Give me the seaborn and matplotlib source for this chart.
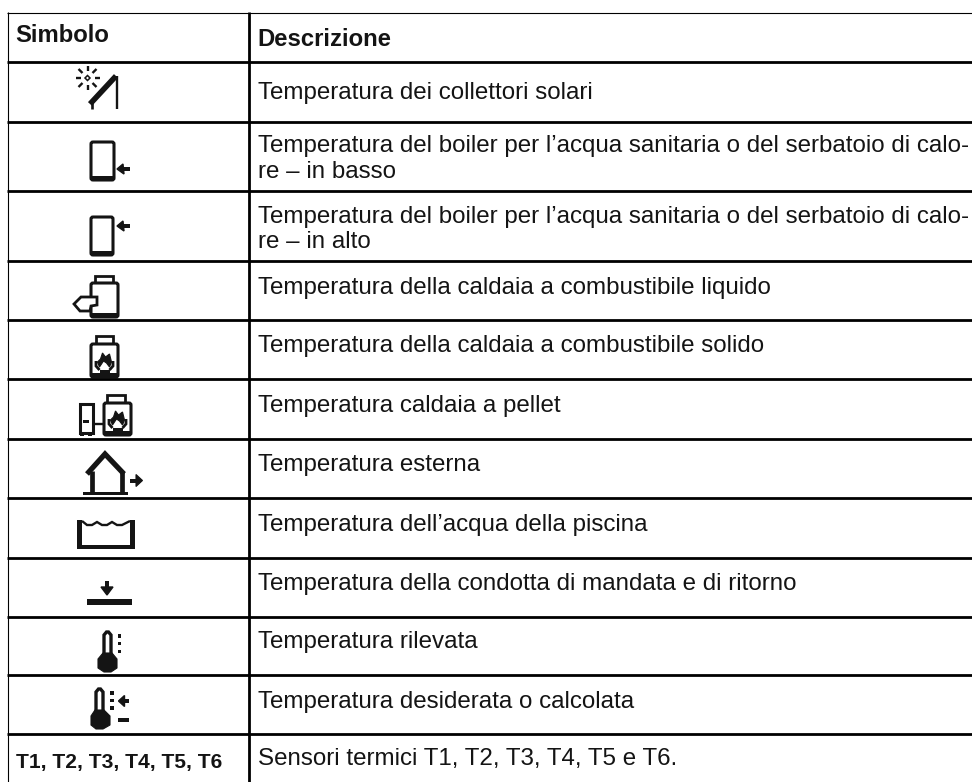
import matplotlib
matplotlib.use("Agg")
import matplotlib.pyplot as plt
from matplotlib.patches import Polygon, Rectangle, FancyBboxPatch
import seaborn as sns

# Table contents
headers = ["Simbolo", "Descrizione"]
description_lines = [
    ["Temperatura dei collettori solari"],
    ["Temperatura del boiler per l’acqua sanitaria o del serbatoio di calo-", "re – in basso"],
    ["Temperatura del boiler per l’acqua sanitaria o del serbatoio di calo-", "re – in alto"],
    ["Temperatura della caldaia a combustibile liquido"],
    ["Temperatura della caldaia a combustibile solido"],
    ["Temperatura caldaia a pellet"],
    ["Temperatura esterna"],
    ["Temperatura dell’acqua della piscina"],
    ["Temperatura della condotta di mandata e di ritorno"],
    ["Temperatura rilevata"],
    ["Temperatura desiderata o calcolata"],
    ["Sensori termici T1, T2, T3, T4, T5 e T6."],
]
sensor_label = "T1, T2, T3, T4, T5, T6"

# Row rules and text baselines, in image pixels
row_rules = [61.5, 121.5, 190.5, 260.5, 319.5, 379, 438.5, 498, 557.5, 616.5, 674.5, 733.5]
row_baselines = [[99.5], [152, 178], [223, 248.5], [294], [352], [412], [471], [531], [590], [648], [708], [765.5]]

sns.set_theme(style="white")
plt.rcParams["font.family"] = ["Liberation Sans", "DejaVu Sans"]

fig = plt.figure(figsize=(9.72, 7.82), dpi=100)
ax = fig.add_axes([0, 0, 1, 1])
ax.set_xlim(0, 972)
ax.set_ylim(782, 0)
ax.axis("off")
INK = "#141414"


def fill(x0, y0, x1, y1):
    ax.add_patch(Rectangle((x0, y0), x1 - x0, y1 - y0, fc=INK, ec="none"))


def poly(points, filled=True, lw=2.0):
    ax.add_patch(Polygon(points, closed=True, fc=INK if filled else "white", ec=INK, lw=lw, joinstyle="miter"))


def line(points, lw=1.5):
    xs, ys = zip(*points)
    ax.plot(xs, ys, color=INK, lw=lw, solid_capstyle="butt", solid_joinstyle="miter")


def tank(x0, y0, x1, y1, foot=4, lw=2.2):
    ax.add_patch(FancyBboxPatch((x0 + 2, y0 + 2), x1 - x0 - 4, y1 - y0 - 4, boxstyle="round,pad=2,rounding_size=2",
                                fc="white", ec=INK, lw=lw))
    fill(x0 + 1, y1 - foot, x1 - 1, y1 + 0.5)


def cap(x0, y0, x1, y1):
    ax.add_patch(Rectangle((x0, y0), x1 - x0, y1 - y0, fc="white", ec=INK, lw=2.0))


def arrow_left(xtip, y):
    poly([(xtip, y), (xtip + 6, y - 5), (xtip + 7, y + 5)], lw=1.0)
    fill(xtip + 5, y - 2, xtip + 13, y + 2)


def flame(cx, cy):
    poly([(cx - 5, cy + 5), (cx - 7, cy), (cx - 4, cy - 3), (cx - 2, cy - 9), (cx + 1, cy - 5), (cx + 5, cy - 8),
          (cx + 7, cy), (cx + 5, cy + 5), (cx + 2, cy + 1), (cx - 1, cy - 1), (cx - 3, cy + 2)], lw=0.8)
    line([(cx - 8.5, cy - 1), (cx - 8.5, cy + 4), (cx - 5, cy + 8)], lw=2.0)
    line([(cx + 8.5, cy - 1), (cx + 8.5, cy + 4), (cx + 5, cy + 8)], lw=2.0)
    fill(cx - 5, cy + 8, cx + 5, cy + 11)


def thermometer(x0, x1, top, neck, bx0, bx1, bottom):
    ax.add_patch(Polygon([(x0, neck), (x0, top + 3), (x0 + 2.5, top), (x1 - 2.5, top), (x1, top + 3), (x1, neck)],
                         closed=False, fc="white", ec=INK, lw=2.4))
    poly([(x0 - 1, neck - 3), (x1 + 1, neck - 3), (bx1, neck + 3), (bx1, bottom - 4), (x1, bottom), (x0, bottom),
          (bx0, bottom - 4), (bx0, neck + 3)], lw=0.8)


def icon_solar():
    sx, sy = 87.5, 78
    for dx0, dy0, dx1, dy1 in [(0, -7, 0, -12), (0, 7, 0, 12), (-7, 0, -12, 0), (7, 0, 12, 0),
                               (-5, -5, -9, -9), (5, -5, 9, -9), (-5, 5, -9, 9), (5, 5, 9, 9)]:
        line([(sx + dx0, sy + dy0), (sx + dx1, sy + dy1)], lw=1.7)
    poly([(sx - 2.5, sy), (sx, sy - 2.5), (sx + 2.5, sy), (sx, sy + 2.5)], filled=False, lw=1.1)
    line([(90, 104), (116, 76)], lw=4.0)
    line([(116.5, 76), (116.5, 109)], lw=1.7)
    line([(92, 101), (92, 109)], lw=1.9)


def icon_boiler_low():
    tank(91, 142, 114, 180)
    arrow_left(117, 169)


def icon_boiler_high():
    tank(91, 217, 113, 255)
    arrow_left(117, 226)


def icon_oil():
    cap(95, 276, 113, 283)
    tank(91, 283, 118, 317, foot=4.5)
    poly([(97, 297), (81, 297), (74, 304), (80, 311), (90, 311), (91, 306), (97, 305)], filled=False, lw=2.0)


def icon_solid():
    cap(96, 336, 113, 344)
    tank(91, 344, 118, 377, foot=4.5)
    flame(104.5, 362)


def icon_pellet():
    cap(107, 395, 125, 403)
    tank(104, 403, 131, 435, foot=4)
    flame(117.5, 420)
    ax.add_patch(Rectangle((79.5, 403.5), 13, 29, fc="white", ec=INK, lw=2.2))
    fill(80, 432, 84, 435.5)
    fill(88, 432, 92, 435.5)
    fill(83, 420, 89, 423)
    line([(93, 424), (104, 424)], lw=1.7)


def icon_house():
    fill(83, 491.5, 128, 495)
    line([(92, 492), (92, 471)], lw=3.4)
    line([(122, 492), (122, 471)], lw=3.4)
    line([(87, 474), (105, 454), (124, 474)], lw=3.8)
    fill(130, 478.5, 137, 482.5)
    poly([(136, 474.5), (142.5, 480.5), (136, 486.5)], lw=0.8)


def icon_pool():
    fill(77, 520, 82, 549)
    fill(130, 520, 135, 549)
    fill(77, 544.5, 135, 549)
    line([(82, 521), (87, 525), (92, 525), (97, 522), (102, 525), (107, 525), (112, 522), (117, 525), (122, 525),
          (130, 521)], lw=1.7)


def icon_flow():
    fill(87, 599, 132, 604.5)
    fill(105, 581, 109, 588)
    poly([(101, 587), (113, 587), (107, 595)], lw=1.0)


def icon_measured():
    thermometer(104, 111, 632, 656, 98, 117, 672)
    for y in [636, 643.5, 651.5]:
        fill(117.5, y - 1.8, 121, y + 1.8)


def icon_set():
    thermometer(96, 103, 689, 713, 91, 110, 729)
    for y in [693, 700.5, 708]:
        fill(110, y - 1.8, 114, y + 1.8)
    fill(124, 699, 128.5, 703)
    poly([(124.5, 695.5), (124.5, 706.5), (118.5, 701)], lw=1.0)
    fill(118, 718, 128.5, 721.5)


icons = [icon_solar, icon_boiler_low, icon_boiler_high, icon_oil, icon_solid, icon_pellet,
         icon_house, icon_pool, icon_flow, icon_measured, icon_set]

# Table rules
ax.hlines(12.5, 7, 972, color="black", lw=0.8)
ax.vlines(7.5, 12, 782, color="black", lw=0.8)
ax.vlines(249.3, 12, 782, color="black", lw=2.0)
ax.hlines(row_rules, 7, 972, color="black", lw=2.0)

# Text
ax.text(15.5, 41.5, headers[0], fontsize=17.2, fontweight="bold", color=INK)
ax.text(257.5, 45.5, headers[1], fontsize=17.2, fontweight="bold", color=INK)
for lines, baselines in zip(description_lines, row_baselines):
    for text, y in zip(lines, baselines):
        ax.text(258, y, text, fontsize=17.35, color=INK)
ax.text(16, 768, sensor_label, fontsize=15.15, fontweight="bold", color=INK)

for draw in icons:
    draw()

sns.despine(ax=ax, left=True, bottom=True)
fig.savefig("out.png", dpi=100)
